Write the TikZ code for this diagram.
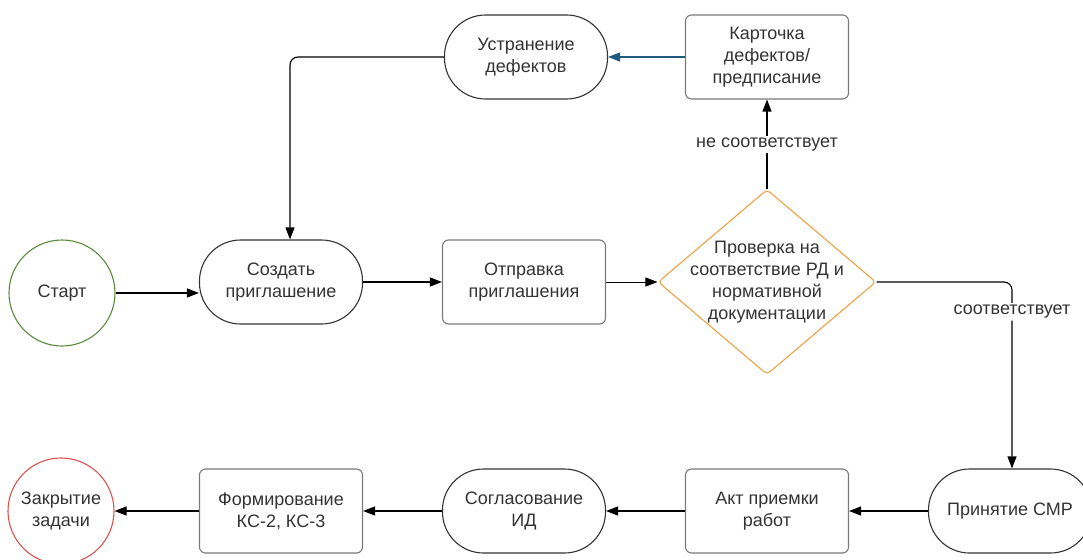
\documentclass[tikz,border=0pt]{standalone}
\usepackage{fontspec}
\setmainfont{Liberation Sans}
\usetikzlibrary{arrows.meta,shapes.geometric}

\definecolor{txtgray}{HTML}{333333}
\definecolor{boxgray}{HTML}{7A7A7A}
\definecolor{startgreen}{HTML}{5B8A3C}
\definecolor{endred}{HTML}{D9534F}
\definecolor{checkorange}{HTML}{F2A144}
\definecolor{backblue}{HTML}{1F5A7E}

\begin{document}
\begin{tikzpicture} [x=1pt,y=-1pt,
  every node/.style={font=\fontsize{18}{22}\selectfont,text=txtgray,align=center},
  terminal/.style={circle,draw,line width=1.1pt,minimum size=106pt,inner sep=0pt},
  stadium/.style={draw=txtgray,line width=1.1pt,minimum width=163pt,minimum height=84pt,rounded corners=41pt},
  procbox/.style={draw=boxgray,line width=1.1pt,minimum width=163pt,minimum height=84pt,rounded corners=6pt},
  checkbox/.style={diamond,draw=checkorange,line width=1.1pt,minimum width=218pt,minimum height=185pt,rounded corners=4pt},
  edgelabel/.style={fill=white,inner sep=2pt},
  arr/.style={line width=1.1pt,-{Triangle[length=12pt,width=9pt]}}]

  \useasboundingbox (0,0) rectangle (1083,559);

  % upper loop
  \node [stadium]  (fix)  at (526,57) {Устранение\\дефектов};
  \node [procbox]  (card) at (767,57) {Карточка\\дефектов/\\предписание};

  % middle row
  \node [terminal,draw=startgreen] (start)  at (62,293) {Старт};
  \node [stadium]  (create) at (281,282) {Создать\\приглашение};
  \node [procbox]  (send)   at (524,282) {Отправка\\приглашения};
  \node [checkbox] (check)  at (767,282) {};
  \node (checktext) at (check) {Проверка на\\соответствие РД и\\нормативной\\документации};

  % lower row
  \node [stadium]  (accept) at (1010,511) {Принятие СМР};
  \node [procbox]  (act)    at (767,511) {Акт приемки\\работ};
  \node [stadium]  (agree)  at (524,511) {Согласование\\ИД};
  \node [procbox]  (form)   at (281,511) {Формирование\\КС-2, КС-3};
  \node [terminal,draw=endred] (close) at (61,511) {Закрытие\\задачи};

  \draw [arr] (start) -- (start -| create.west);
  \draw [arr] (create) -- (send);
  \draw [arr,line width=0.6pt] (send) -- (check);
  \draw [arr] (check) -- node [edgelabel] {не соответствует} (card);
  \draw [arr,draw=backblue,fill=backblue] (card) -- (fix);
  \draw [arr,rounded corners=8pt] (fix.west) -| ([xshift=9pt]create.north);
  \draw [arr,rounded corners=8pt] (check.east) -| node [edgelabel,pos=0.58] {соответствует} ([xshift=2pt]accept.north);

  \foreach \a/\b in {accept/act,act/agree,agree/form,form/close}
    \draw [arr] (\a) -- (\b);

\end{tikzpicture}
\end{document}
